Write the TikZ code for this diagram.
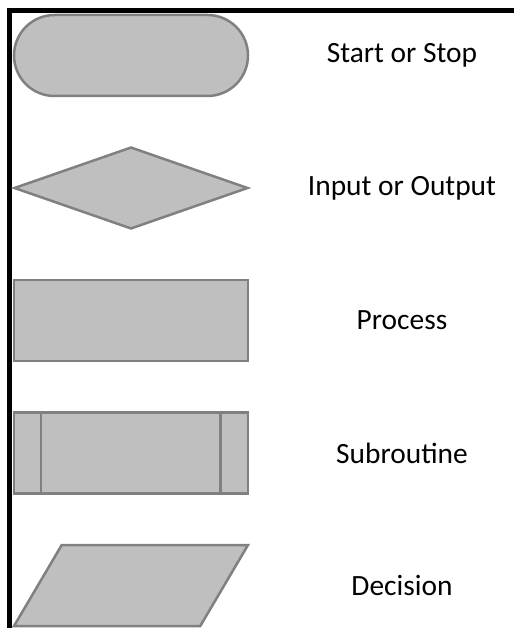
\documentclass[tikz,border=0pt]{standalone}
\usepackage{fontspec}
\setmainfont{Carlito}
\usetikzlibrary{shapes.geometric, shapes.misc, positioning}

\begin{document}
\begin{tikzpicture}[x=1pt, y=-1pt, node distance=132.5pt]

  % Define styles
  \tikzstyle{shapebox} = [draw=black!50, fill=black!25, line width=2.5pt, minimum width=234pt, minimum height=81pt, inner sep=0pt]
  \tikzstyle{startstop} = [shapebox, rounded rectangle]
  \tikzstyle{io} = [shapebox, diamond, minimum height=82pt]
  \tikzstyle{process} = [shapebox, rectangle]
  \tikzstyle{decision} = [shapebox, trapezium, trapezium stretches=true, trapezium left angle=71, trapezium right angle=109, inner sep=2pt]
  \tikzstyle{label} = [font=\fontsize{29.4}{35}\selectfont, text centered]

  \useasboundingbox (0,0) rectangle (514,628);

  % Frame
  \draw[line width=5pt] (9.5,628) -- (9.5,10.5) -- (514,10.5);

  % Place nodes
  \node [startstop] (start) at (131,55.5) {};
  \node [io, below of=start] (inout) {};
  \node [process, below of=inout] (proc) {};
  \node [process, below of=proc] (subr) {};
  \node [decision, below of=subr] (decide) {};

  % Subroutine bars
  \draw[draw=black!50, line width=2.5pt] ([xshift=28pt]subr.north west) -- ([xshift=28pt]subr.south west);
  \draw[draw=black!50, line width=2.5pt] ([xshift=-29pt]subr.north east) -- ([xshift=-29pt]subr.south east);

  % Labels
  \node [label, right of=start, node distance=271pt] (startlbl) {Start or Stop};
  \node [label, right of=inout, node distance=271pt] (inoutlbl) {Input or Output};
  \node [label, right of=proc, node distance=271pt] (proclbl) {Process};
  \node [label, right of=subr, node distance=271pt] (subrlbl) {Subroutine};
  \node [label, right of=decide, node distance=271pt] (decidelbl) {Decision};

\end{tikzpicture}
\end{document}
